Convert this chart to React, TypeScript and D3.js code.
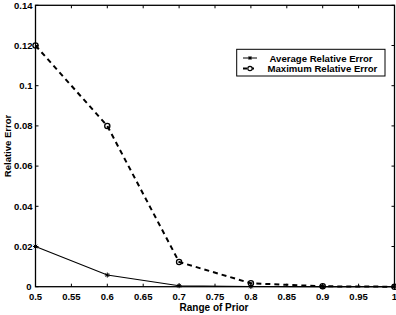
import React from "react";
import * as d3 from "d3";

const priorRange = [0.5, 0.6, 0.7, 0.8, 0.9, 1.0];
const avgError = [0.02, 0.0058, 0.0005, 0.0001, 0.0, 0.0];
const maxError = [0.12, 0.08, 0.0123, 0.0017, 0.0002, 0.0];
const xTicks = [0.5, 0.55, 0.6, 0.65, 0.7, 0.75, 0.8, 0.85, 0.9, 0.95, 1];
const yTicks = [0, 0.02, 0.04, 0.06, 0.08, 0.1, 0.12, 0.14];
const seriesNames = ["Average Relative Error", "Maximum Relative Error"];

const W = 396, H = 315;
const L = 35.5, R = 394.5, T = 5.3, B = 286.7;

export default function App() {
  const x = d3.scaleLinear().domain([0.5, 1]).range([L, R]);
  const y = d3.scaleLinear().domain([0, 0.14]).range([B, T]);
  const line = d3.line<number>().x((_, i) => x(priorRange[i])).y((d) => y(d));
  const font = "'Liberation Sans', Arial, sans-serif";
  const fmt = (v: number) => (v === 0 ? "0" : v === 1 ? "1" : String(+v.toFixed(2)));
  const star = (cx: number, cy: number, s = 2.5) =>
    `M${cx - s},${cy}H${cx + s}M${cx},${cy - s}V${cy + s}M${cx - s * 0.7},${cy - s * 0.7}L${cx + s * 0.7},${cy + s * 0.7}M${cx - s * 0.7},${cy + s * 0.7}L${cx + s * 0.7},${cy - s * 0.7}`;
  return (
    <svg width={W} height={H} style={{ position: "absolute", left: 0, top: 0, background: "#fff" }}>
      <rect x={0} y={0} width={W} height={H} fill="#fff" />
      {xTicks.map((t) => (
        <g key={"xt" + t}>
          <line x1={x(t)} x2={x(t)} y1={B} y2={B - 3} stroke="#000" strokeWidth={1} />
          <line x1={x(t)} x2={x(t)} y1={T} y2={T + 3} stroke="#000" strokeWidth={1} />
          <text x={x(t)} y={300} fontFamily={font} fontWeight="bold" fontSize={9.5} textAnchor="middle" fill="#000">
            {fmt(t)}
          </text>
        </g>
      ))}
      {yTicks.map((t) => (
        <g key={"yt" + t}>
          <line x1={L} x2={L + 3} y1={y(t)} y2={y(t)} stroke="#000" strokeWidth={1} />
          <line x1={R} x2={R - 3} y1={y(t)} y2={y(t)} stroke="#000" strokeWidth={1} />
          <text x={t === 0 ? 31.5 : 32.5} y={y(t) + 3.3} fontFamily={font} fontWeight="bold" fontSize={9.5} textAnchor="end" fill="#000">
            {fmt(t)}
          </text>
        </g>
      ))}
      <path d={line(avgError) || ""} fill="none" stroke="#000" strokeWidth={1.1} />
      {avgError.map((v, i) => (
        <path key={"a" + i} d={star(x(priorRange[i]), y(v))} stroke="#000" strokeWidth={1} fill="none" />
      ))}
      <path d={line(maxError) || ""} fill="none" stroke="#000" strokeWidth={2} strokeDasharray="5,4" />
      {maxError.map((v, i) => (
        <circle key={"m" + i} cx={x(priorRange[i])} cy={y(v)} r={2.6} stroke="#000" strokeWidth={1.3} fill="none" />
      ))}
      <rect x={L} y={T} width={R - L} height={B - T} fill="none" stroke="#000" strokeWidth={1.3} />
      <g>
        <rect x={236.7} y={49.3} width={148.3} height={26.7} fill="#fff" stroke="#000" strokeWidth={1} />
        <line x1={243} x2={257} y1={58} y2={58} stroke="#000" strokeWidth={1} />
        <path d={star(250, 58, 2)} stroke="#000" strokeWidth={1} fill="none" />
        <text x={269.5} y={61.5} fontFamily={font} fontWeight="bold" fontSize={9.6} fill="#000">{seriesNames[0]}</text>
        <line x1={243} x2={257} y1={68.5} y2={68.5} stroke="#000" strokeWidth={1.8} strokeDasharray="4,3" />
        <circle cx={250} cy={68.5} r={2.2} stroke="#000" strokeWidth={1.2} fill="#fff" />
        <text x={267.5} y={72} fontFamily={font} fontWeight="bold" fontSize={9.6} fill="#000">{seriesNames[1]}</text>
      </g>
      <text x={214} y={310.5} fontFamily={font} fontWeight="bold" fontSize={10} textAnchor="middle" fill="#000">
        Range of Prior
      </text>
      <text
        transform={`translate(10.5, ${(T + B) / 2}) rotate(-90)`}
        fontFamily={font}
        fontWeight="bold"
        fontSize={9.5}
        textAnchor="middle"
        fill="#000"
      >
        Relative Error
      </text>
    </svg>
  );
}
